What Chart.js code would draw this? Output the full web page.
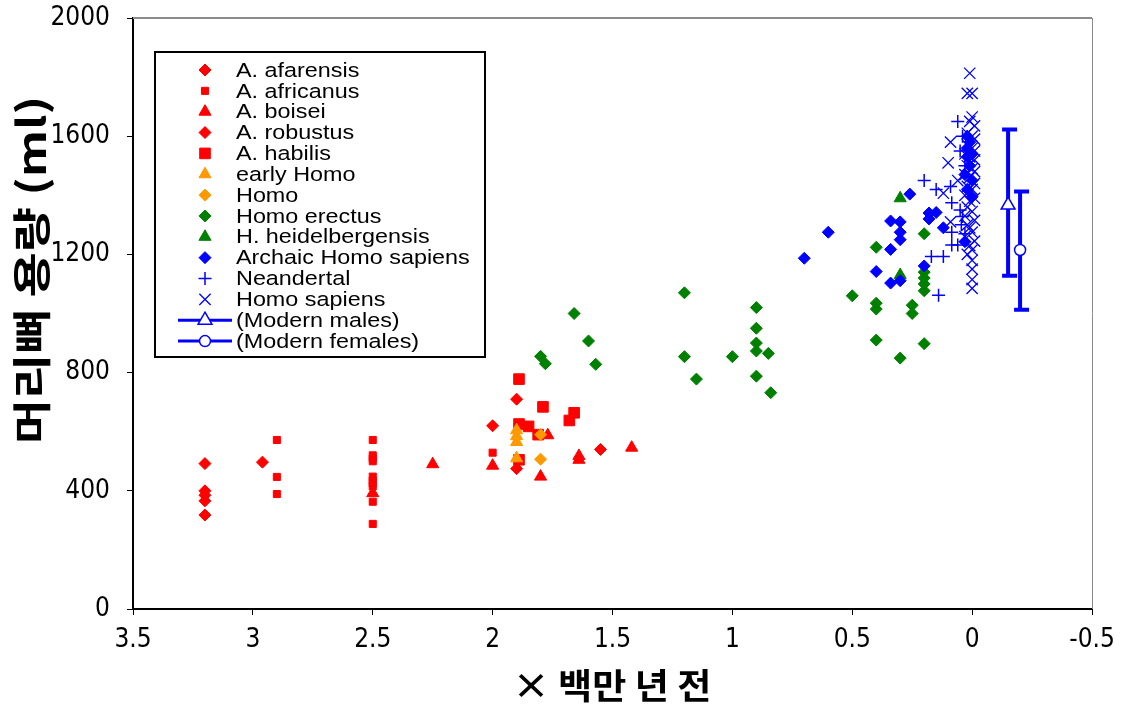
<!DOCTYPE html>
<html><head><meta charset="utf-8">
<script src="https://cdn.jsdelivr.net/npm/chart.js@4"></script>
<style>html,body{margin:0;padding:0;background:#fff;overflow:hidden}#wrap{width:1123px;height:705px;position:relative}</style>
</head><body><div id="wrap"><canvas id="c" width="1123" height="705"></canvas></div>
<script>
const xTicks = [3.5, 3, 2.5, 2, 1.5, 1, 0.5, 0, -0.5];
const yTicks = [0, 400, 800, 1200, 1600, 2000];
const xTitle = '× 백만 년 전';
const yTitle = '머리뼈 용량 (ml)';
const seriesNames = ['A. afarensis','A. africanus','A. boisei','A. robustus','A. habilis','early Homo','Homo','Homo erectus','H. heidelbergensis','Archaic Homo sapiens','Neandertal','Homo sapiens','(Modern males)','(Modern females)'];

const afarensis = [[3.2,492],[3.2,400],[3.2,385],[3.2,366],[3.2,318],[2.96,497]];
const africanus = [[2.9,572],[2.9,447],[2.9,389],[2.5,572],[2.5,520],[2.5,510],[2.5,500],[2.5,448],[2.5,435],[2.5,425],[2.5,415],[2.5,363],[2.5,288],[2.0,529]];
const boisei = [[2.5,392],[2.25,490],[2.0,485],[1.8,448],[1.77,588],[1.64,518],[1.64,505],[1.42,546]];
const robustus = [[2.0,620],[1.9,710],[1.9,475],[1.55,540]];
const habilis = [[1.89,778],[1.79,684],[1.66,664],[1.68,638],[1.89,626],[1.85,618],[1.81,590],[1.89,505]];
const earlyHomo = [[1.9,605],[1.9,585],[1.9,565],[1.9,510]];
const homo = [[1.8,590],[1.8,507]];
const erectus = [[1.2,1070],[1.66,1000],[1.6,907],[1.8,855],[1.78,830],[1.57,828],[1.2,854],[1.15,778],[1.0,854],[0.9,1020],[0.9,950],[0.9,900],[0.9,873],[0.85,865],[0.9,788],[0.84,732],[0.5,1060],[0.4,1035],[0.4,1015],[0.25,1028],[0.25,1000],[0.4,910],[0.2,898],[0.3,849],[0.4,1224],[0.2,1270],[0.2,1140],[0.2,1120],[0.2,1100],[0.2,1077]];
const heidelbergensis = [[0.3,1390],[0.3,1130]];
const archaic = [[0.7,1187],[0.6,1275],[0.34,1313],[0.3,1310],[0.3,1275],[0.3,1250],[0.34,1217],[0.4,1142],[0.34,1103],[0.3,1111],[0.26,1404],[0.18,1340],[0.15,1342],[0.18,1320],[0.2,1161],[0.12,1290],[0.03,1243],[0.02,1600],[0.01,1580],[0.02,1560],[0.0,1540],[0.02,1530],[0.01,1500],[0.03,1470],[0.0,1450],[0.02,1420],[0.0,1395]];
const neandertal = [[0.2,1450],[0.15,1420],[0.09,1430],[0.085,1375],[0.17,1193],[0.12,1193],[0.14,1062],[0.085,1275],[0.085,1232],[0.045,1300],[0.04,1328],[0.06,1232],[0.06,1650],[0.04,1600],[0.05,1550],[0.03,1500],[0.05,1350],[0.03,1270]];
const sapiens = [[0.01,1813],[0.02,1745],[0.0,1745],[0.0,1665],[0.01,1650],[-0.01,1635],[0.02,1610],[0.0,1600],[-0.01,1590],[0.09,1580],[0.02,1570],[0.0,1560],[-0.01,1550],[0.03,1540],[0.01,1530],[-0.01,1520],[0.1,1510],[0.02,1500],[0.0,1490],[-0.01,1480],[0.03,1470],[0.01,1460],[0.06,1450],[-0.01,1440],[0.02,1430],[0.0,1420],[0.12,1407],[0.03,1400],[-0.01,1390],[0.01,1380],[0.02,1360],[0.0,1345],[0.03,1330],[-0.01,1315],[0.09,1310],[0.02,1300],[0.01,1290],[0.0,1275],[0.03,1260],[-0.01,1245],[0.01,1230],[0.0,1215],[0.02,1200],[0.0,1180],[0.0,1150],[0.0,1115],[0.0,1085]];
const malesX = [-0.15], malesMean = [1367], malesLow = [1128], malesHigh = [1623];
const femalesX = [-0.2], femalesMean = [1215], femalesLow = [1013], femalesHigh = [1413];

const RED = '#ff0000', ORANGE = '#ff9900', GREEN = '#008000', BLUE = '#0000ff';
const toPts = a => a.map(p => ({x: p[0], y: p[1]}));
function ds(name, arr, color, style, radius, extra) {
  return Object.assign({label: name, data: toPts(arr), pointStyle: style, pointRadius: radius, pointHoverRadius: radius,
    backgroundColor: color, borderColor: color, pointBorderWidth: 1, showLine: false}, extra || {});
}
const datasets = [
  ds(seriesNames[0], afarensis, RED, 'rectRot', 6),
  ds(seriesNames[1], africanus, RED, 'rect', 5),
  ds(seriesNames[2], boisei, RED, 'triangle', 7),
  ds(seriesNames[3], robustus, RED, 'rectRot', 6),
  ds(seriesNames[4], habilis, RED, 'rect', 7.5),
  ds(seriesNames[5], earlyHomo, ORANGE, 'triangle', 7),
  ds(seriesNames[6], homo, ORANGE, 'rectRot', 6),
  ds(seriesNames[7], erectus, GREEN, 'rectRot', 6),
  ds(seriesNames[8], heidelbergensis, GREEN, 'triangle', 7),
  ds(seriesNames[9], archaic, BLUE, 'rectRot', 6),
  ds(seriesNames[10], neandertal, BLUE, 'cross', 6.5, {pointBorderWidth: 1.5}),
  ds(seriesNames[11], sapiens, BLUE, 'crossRot', 8, {pointBorderWidth: 1.3}),
  ds(seriesNames[12], malesX.map((x,i)=>[x, malesMean[i]]), BLUE, 'triangle', 8, {backgroundColor:'#fff', pointBorderWidth: 1.5,
     errLow: malesLow, errHigh: malesHigh}),
  ds(seriesNames[13], femalesX.map((x,i)=>[x, femalesMean[i]]), BLUE, 'circle', 5.5, {backgroundColor:'#fff', pointBorderWidth: 1.5,
     errLow: femalesLow, errHigh: femalesHigh}),
];
datasets.forEach((d, i) => d.order = -i);

const frame = {
  id: 'frame',
  beforeDatasetsDraw(chart) {
    const {ctx, chartArea: a} = chart;
    ctx.save();
    ctx.strokeStyle = '#8c8c8c'; ctx.lineWidth = 2;
    ctx.beginPath(); ctx.moveTo(a.left, a.top); ctx.lineTo(a.right, a.top); ctx.stroke();
    ctx.lineWidth = 1; ctx.beginPath(); ctx.moveTo(a.right + 0.5, a.top); ctx.lineTo(a.right + 0.5, a.bottom); ctx.stroke();
    const xs = chart.scales.x, ys = chart.scales.y;
    chart.data.datasets.forEach(d => {
      if (!d.errLow) return;
      d.data.forEach((p, i) => {
        const px = xs.getPixelForValue(p.x);
        const top = ys.getPixelForValue(d.errHigh[i]), bot = ys.getPixelForValue(d.errLow[i]);
        ctx.strokeStyle = d.borderColor; ctx.lineWidth = 4;
        ctx.beginPath(); ctx.moveTo(px, top); ctx.lineTo(px, bot);
        ctx.moveTo(px - 6, top); ctx.lineTo(px + 9, top);
        ctx.moveTo(px - 6, bot); ctx.lineTo(px + 9, bot);
        ctx.stroke();
      });
    });
    ctx.restore();
  },
  afterDraw(chart) {
    const ctx = chart.ctx;
    ctx.save();
    ctx.fillStyle = '#000'; ctx.textAlign = 'center'; ctx.textBaseline = 'middle';
    ctx.font = 'bold 39px "Noto Sans CJK KR", sans-serif';
    ctx.save(); ctx.translate(31, 270); ctx.rotate(-Math.PI / 2); ctx.scale(1.26, 1);
    ctx.fillText(yTitle, 0, 0); ctx.restore();
    ctx.font = 'bold 35px "Noto Sans CJK KR", sans-serif';
    ctx.save(); ctx.translate(612, 686); ctx.scale(1.06, 1);
    ctx.fillText(xTitle, 0, 0); ctx.restore();
    ctx.restore();
  }
};

const legendBox = {
  id: 'legendBox',
  afterDraw(chart) {
    const ctx = chart.ctx;
    const L = 155, T = 52, R = 485, B = 357;
    ctx.save();
    ctx.fillStyle = '#fff'; ctx.fillRect(L, T, R - L, B - T);
    ctx.strokeStyle = '#000'; ctx.lineWidth = 2; ctx.strokeRect(L, T, R - L, B - T);
    chart.data.datasets.forEach((d, i) => {
      const y = 70 + i * 20.85;
      if (d.errLow) {
        ctx.strokeStyle = d.borderColor; ctx.lineWidth = 3;
        ctx.beginPath(); ctx.moveTo(178, y); ctx.lineTo(232, y); ctx.stroke();
      }
      ctx.fillStyle = d.backgroundColor; ctx.strokeStyle = d.borderColor; ctx.lineWidth = d.pointBorderWidth;
      Chart.helpers.drawPoint(ctx, {pointStyle: d.pointStyle, radius: d.pointRadius, rotation: 0, borderWidth: d.pointBorderWidth}, 205, y);
      ctx.save();
      ctx.translate(236, y); ctx.scale(1.14, 1);
      ctx.fillStyle = '#000'; ctx.font = '20.5px "Liberation Sans", Arial, sans-serif';
      ctx.textBaseline = 'middle'; ctx.textAlign = 'left';
      ctx.fillText(d.label, 0, 1);
      ctx.restore();
    });
    ctx.restore();
  }
};

const tickFont = {family: '"Liberation Sans Narrow", "Arial Narrow", "DejaVu Sans Condensed", sans-serif', size: 26};
new Chart(document.getElementById('c'), {
  type: 'scatter',
  data: {datasets},
  options: {
    responsive: false, animation: false, devicePixelRatio: 1,
    layout: {padding: {left: 0, top: 18, right: 31, bottom: 0}},
    plugins: {legend: {display: false}, tooltip: {enabled: false}, title: {display: false}},
    scales: {
      x: {type: 'linear', reverse: true, min: -0.5, max: 3.5,
        afterBuildTicks: s => { s.ticks = xTicks.map(v => ({value: v})); },
        afterFit: s => { s.height = 96; s.paddingLeft = 0; s.paddingRight = 0; },
        grid: {display: true, drawOnChartArea: false, drawTicks: true, tickLength: 6, color: '#000', lineWidth: 1},
        border: {display: true, color: '#000', width: 2},
        ticks: {color: '#000', font: tickFont, padding: 10, maxRotation: 0, autoSkip: false, callback: v => String(v)},
        title: {display: false}
      },
      y: {type: 'linear', min: 0, max: 2000,
        afterBuildTicks: s => { s.ticks = yTicks.map(v => ({value: v})); },
        afterFit: s => { s.width = 133; s.paddingTop = 0; s.paddingBottom = 0; },
        grid: {display: true, drawOnChartArea: false, drawTicks: true, tickLength: 6, color: '#000', lineWidth: 1},
        border: {display: true, color: '#000', width: 2},
        ticks: {color: '#000', font: tickFont, padding: 17, callback: v => String(v)},
        title: {display: false}
      }
    }
  },
  plugins: [frame, legendBox]
});
</script></body></html>
